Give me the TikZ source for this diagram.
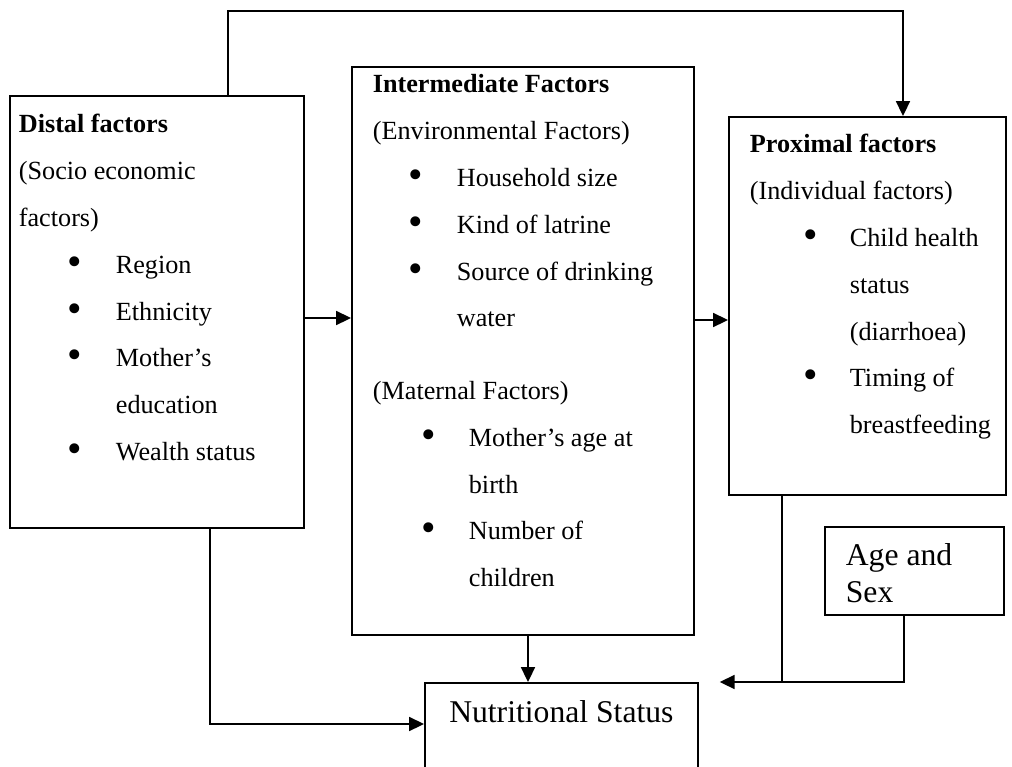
\documentclass[tikz,border=0pt]{standalone}
\usepackage{fontspec}
\setmainfont{Liberation Serif}
\usepackage{tikz}
\usetikzlibrary{arrows.meta}
\usetikzlibrary{calc}
\newlength{\unitpx}
\setlength{\unitpx}{0.458pt}
\newcommand{\bigbullet}{\raisebox{-0.9pt}{\fontsize{19pt}{0pt}\selectfont\textbullet}}
\newcommand{\bul}[2]{\hspace*{#1\unitpx}\makebox[#2\unitpx][l]{\bigbullet}}
\newcommand{\mainsize}{\fontsize{12pt}{21.43pt}\selectfont}
\newcommand{\bigsize}{\fontsize{14.5pt}{16.95pt}\selectfont}
\tikzstyle{factor} = [rectangle, draw=black, line width=0.8pt, inner sep=0pt,
                      anchor=north west]
\tikzstyle{link} = [line width=0.8pt, -{Triangle[length=6.8pt,width=6.4pt]}]
\tikzstyle{line} = [line width=0.8pt]

\begin{document}
\begin{tikzpicture}[x=0.458pt,y=-0.458pt]
    \path[use as bounding box, clip] (0,0) rectangle (1012,767);
    \node[factor] (distal) at (9,95) {\parbox[c][432\unitpx][t]{294\unitpx}{\leftskip=9\unitpx\mainsize
        \rule{0pt}{37\unitpx}\textbf{Distal factors}\\
        (Socio economic\\
        factors)\\
        \bul{49}{48}Region\\
        \bul{49}{48}Ethnicity\\
        \bul{49}{48}Mother's\\
        \hspace*{97\unitpx}education\\
        \bul{49}{48}Wealth status}};
    \node[factor] (inter) at (351,66) {\parbox[c][568\unitpx][t]{342\unitpx}{\leftskip=21\unitpx\mainsize
        \rule{0pt}{26\unitpx}\textbf{Intermediate Factors}\\
        (Environmental Factors)\\
        \bul{36}{48}Household size\\
        \bul{36}{48}Kind of latrine\\
        \bul{36}{48}Source of drinking\\
        \hspace*{84\unitpx}water\\[26\unitpx]
        (Maternal Factors)\\
        \bul{49}{47}Mother's age at\\
        \hspace*{96\unitpx}birth\\
        \bul{49}{47}Number of\\
        \hspace*{96\unitpx}children}};
    \node[factor] (prox) at (728,116) {\parbox[c][378\unitpx][t]{277\unitpx}{\leftskip=21\unitpx\mainsize
        \rule{0pt}{36\unitpx}\textbf{Proximal factors}\\
        (Individual factors)\\
        \bul{54}{46}Child health\\
        \hspace*{100\unitpx}status\\
        \hspace*{100\unitpx}(diarrhoea)\\
        \bul{54}{46}Timing of\\
        \hspace*{100\unitpx}breastfeeding}};
    \node[factor] (age) at (824,526) {\parbox[c][88\unitpx][t]{179\unitpx}{\leftskip=21\unitpx\bigsize
        \rule{0pt}{39\unitpx}Age and\\
        Sex}};
    \node[factor] (nutr) at (424,682) {\parbox[c][93\unitpx][t]{273\unitpx}{\centering\bigsize
        \rule{0pt}{40\unitpx}Nutritional Status}};
    \coordinate (gap) at ($(nutr.north east)+(21,0)$);
    \draw[link] ($(distal.north west)+(219,0)$) -- ++(0,-84) -| ($(prox.north west)+(175,0)$);
    \draw[link] ($(distal.north east)+(0,223)$) coordinate (d1) -- (d1 -| inter.west);
    \draw[link] ($(inter.north east)+(0,254)$) coordinate (i1) -- (i1 -| prox.west);
    \draw[link] ($(inter.south west)+(177,0)$) coordinate (i2) -- (i2 |- nutr.north);
    \draw[link] ($(distal.south west)+(201,0)$) |- ($(nutr.north west)+(0,42)$);
    \draw[line] ($(prox.south west)+(54,0)$) coordinate (p1) -- (p1 |- gap);
    \draw[link] ($(age.south west)+(80,0)$) |- (gap);
\end{tikzpicture}
\end{document}
